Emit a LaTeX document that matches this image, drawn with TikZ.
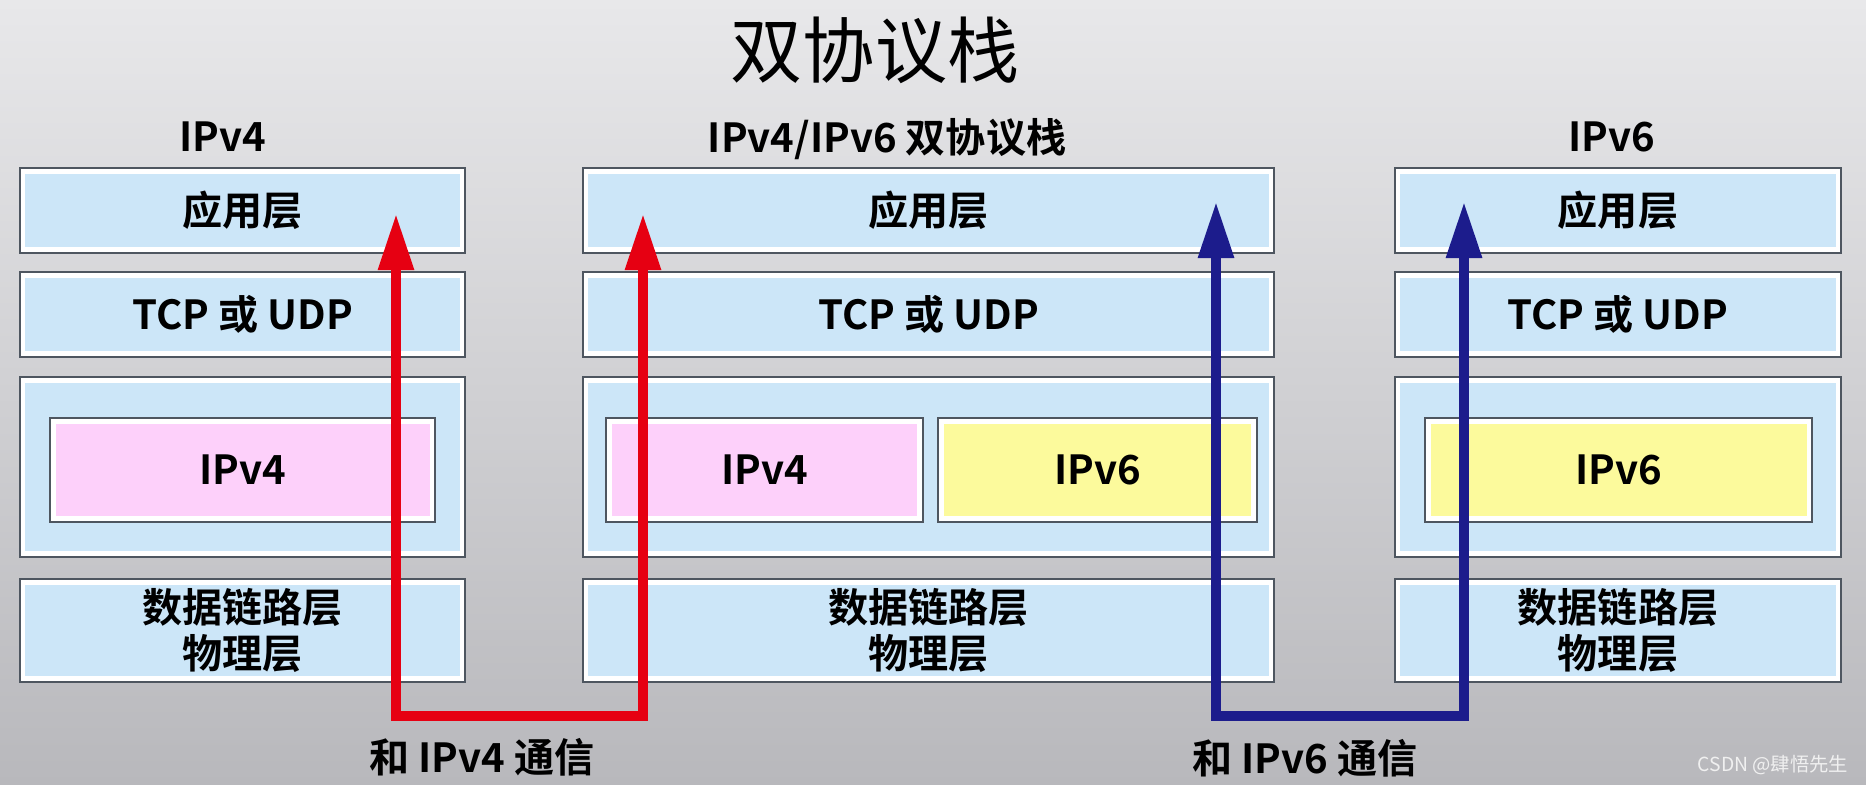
\documentclass[tikz,border=0pt]{standalone}
\usepackage{fontspec}
\setmainfont{Noto Sans CJK SC}[BoldFont={Noto Sans CJK SC Bold}]
\usetikzlibrary{arrows.meta}
\definecolor{layerblue}{HTML}{CCE6F8}
\definecolor{pinkv4}{HTML}{FDD0FA}
\definecolor{yellowv6}{HTML}{FCFA9C}
\definecolor{edgegray}{HTML}{4E5660}
\definecolor{redline}{HTML}{E60012}
\definecolor{navyline}{HTML}{1C1C8C}
\definecolor{bgtop}{HTML}{E8E8EA}
\definecolor{bgbot}{HTML}{B8B8BC}

\begin{document}
\begin{tikzpicture}[
    x=0.01cm,y=0.01cm,
    layer/.style={rectangle,fill=layerblue,draw=white,line width=1.2pt,preaction={draw=edgegray,line width=2.4pt},minimum height=0.78cm,inner sep=0pt,outer sep=0pt,align=center,font=\bfseries\fontsize{11.4}{13}\selectfont},
    ipbox/.style={layer,minimum height=0.97cm},
    caption/.style={font=\bfseries\fontsize{11.4}{13}\selectfont},
    path4/.style={draw=redline,line width=2.6pt,{Triangle[length=0.56cm,width=0.34cm]}-{Triangle[length=0.56cm,width=0.34cm]}},
    path6/.style={draw=navyline,line width=2.6pt,{Triangle[length=0.56cm,width=0.34cm]}-{Triangle[length=0.56cm,width=0.34cm]}}
]
    \shade[top color=bgtop,bottom color=bgbot] (0,0) rectangle (1866,-785);
    \useasboundingbox (0,0) rectangle (1866,-785);

    \node[font=\fontsize{20.5}{24}\selectfont] (title) at (875,-50) {双协议栈};
    \node[caption] (hdr4) at (223,-137) {IPv4};
    \node[caption] (hdrds) at (887,-139) {IPv4/IPv6 双协议栈};
    \node[caption] (hdr6) at (1612,-137) {IPv6};

    \node[layer,minimum width=4.38cm] (v4app) at (242.5,-210.5) {应用层};
    \node[layer,minimum width=4.38cm] (v4tcp) at (242.5,-314.5) {TCP 或 UDP};
    \node[layer,minimum width=4.38cm,minimum height=1.73cm] (v4ip) at (242.5,-467) {};
    \node[layer,minimum width=4.38cm,minimum height=0.96cm] (v4link) at (242.5,-630.5) {数据链路层\\物理层};

    \node[layer,minimum width=6.84cm] (dsapp) at (928.5,-210.5) {应用层};
    \node[layer,minimum width=6.84cm] (dstcp) at (928.5,-314.5) {TCP 或 UDP};
    \node[layer,minimum width=6.84cm,minimum height=1.73cm] (dsip) at (928.5,-467) {};
    \node[layer,minimum width=6.84cm,minimum height=0.96cm] (dslink) at (928.5,-630.5) {数据链路层\\物理层};

    \node[layer,minimum width=4.39cm] (v6app) at (1618,-210.5) {应用层};
    \node[layer,minimum width=4.39cm] (v6tcp) at (1618,-314.5) {TCP 或 UDP};
    \node[layer,minimum width=4.39cm,minimum height=1.73cm] (v6ip) at (1618,-467) {};
    \node[layer,minimum width=4.39cm,minimum height=0.96cm] (v6link) at (1618,-630.5) {数据链路层\\物理层};

    \node[ipbox,fill=pinkv4,minimum width=3.78cm] (v4in) at (242.5,-470) {IPv4};
    \node[ipbox,fill=pinkv4,minimum width=3.10cm] (dsin4) at (764.5,-470) {IPv4};
    \node[ipbox,fill=yellowv6,minimum width=3.12cm] (dsin6) at (1097.5,-470) {IPv6};
    \node[ipbox,fill=yellowv6,minimum width=3.80cm] (v6in) at (1618.5,-470) {IPv6};

    \coordinate (r1) at (396,-214);
    \coordinate (r2) at (643,-214);
    \coordinate (b1) at (1216,-202);
    \coordinate (b2) at (1464,-202);
    \coordinate (low) at (0,-716);
    \draw[path4] (r1) -- (r1 |- low) -- (r2 |- low) -- (r2);
    \draw[path6] (b1) -- (b1 |- low) -- (b2 |- low) -- (b2);

    \node[caption] (with4) at (482,-757) {和 IPv4 通信};
    \node[caption] (with6) at (1305,-758) {和 IPv6 通信};
    \node[font=\fontsize{5.5}{6}\selectfont,text=white!88!gray] (mark) at (1773,-765) {CSDN @肆悟先生};
\end{tikzpicture}
\end{document}
